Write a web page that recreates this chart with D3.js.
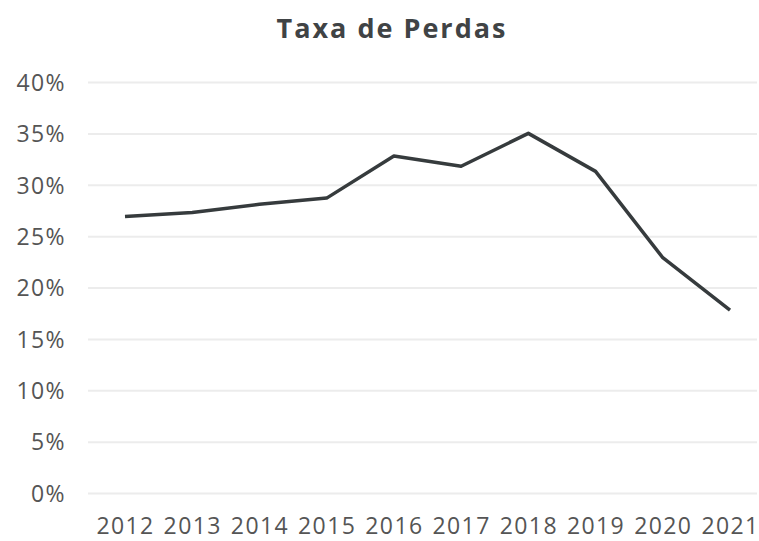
<!DOCTYPE html>
<html>
<head>
<meta charset="utf-8">
<script src="https://cdn.jsdelivr.net/npm/d3@7"></script>
<style>
  body { margin: 0; background: #fff; }
  svg { display: block; font-family: "Open Sans", sans-serif; }
  .title { font-weight: 700; font-size: 27px; letter-spacing: 2px; fill: #404345; }
  .tick text { font-family: "Open Sans", sans-serif; font-size: 23px; letter-spacing: 1.4px; fill: #555; }
</style>
</head>
<body>
<svg width="759" height="541"></svg>
<script>
var years = ["2012", "2013", "2014", "2015", "2016", "2017", "2018", "2019", "2020", "2021"];
var perdas = [26.9, 27.3, 28.1, 28.7, 32.8, 31.8, 35.0, 31.3, 22.9, 17.8];
var yTicks = [0, 5, 10, 15, 20, 25, 30, 35, 40];

var svg = d3.select("svg");

var x = d3.scalePoint()
    .domain(years)
    .range([125, 730]);

var y = d3.scaleLinear()
    .domain([0, 40])
    .range([493, 82]);

svg.append("text")
    .attr("class", "title")
    .attr("x", 392)
    .attr("y", 38)
    .attr("text-anchor", "middle")
    .text("Taxa de Perdas");

// grid + y labels
var ya = svg.append("g")
    .attr("transform", "translate(88,0)")
    .call(d3.axisLeft(y)
        .tickValues(yTicks)
        .tickSize(-669)
        .tickPadding(22)
        .tickFormat(function(d) { return d + "%"; }));
ya.attr("font-family", null).attr("font-size", null);
ya.select(".domain").remove();
ya.selectAll(".tick line").attr("stroke", "#ececec").attr("stroke-width", 2);
ya.selectAll(".tick text").attr("dy", "0.36em");

var xa = svg.append("g")
    .attr("transform", "translate(0,493)")
    .call(d3.axisBottom(x).tickSize(0).tickPadding(25));
xa.attr("font-family", null).attr("font-size", null);
xa.select(".domain").remove();

var line = d3.line()
    .x(function(d, i) { return x(years[i]); })
    .y(function(d) { return y(d); });

svg.append("path")
    .datum(perdas)
    .attr("fill", "none")
    .attr("stroke", "#363b3d")
    .attr("stroke-width", 3.5)
    .attr("stroke-linejoin", "round")
    .attr("d", line);
</script>
</body>
</html>
